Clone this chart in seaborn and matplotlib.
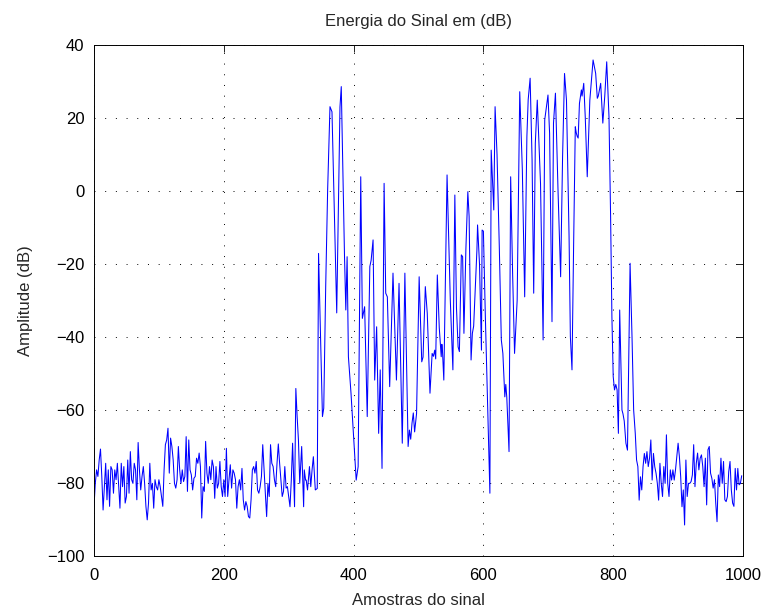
import numpy as np
import pandas as pd
import matplotlib
matplotlib.use("Agg")
import matplotlib.pyplot as plt
import seaborn as sns

# ---- data ----
noise_left_samples = list(range(0, 300, 2))
noise_left_db = [
    -86.4, -80.1, -76.4, -78.2, -73.7, -70.7, -78.2, -87.4, -81.0, -74.6,
    -84.6, -76.4, -86.4, -75.5, -76.4, -82.8, -76.4, -79.1, -74.6, -81.0,
    -86.9, -74.6, -81.0, -75.5, -85.5, -83.7, -73.7, -82.8, -71.4, -79.1,
    -80.1, -74.6, -76.4, -84.6, -68.9, -76.4, -81.9, -78.2, -75.5, -80.1,
    -86.4, -90.1, -85.5, -74.6, -81.9, -80.1, -86.9, -79.1, -81.0, -81.9,
    -79.1, -81.0, -83.7, -86.4, -76.4, -69.5, -68.2, -65.0, -77.3, -67.7,
    -70.0, -73.7, -80.1, -81.4, -79.1, -70.0, -76.4, -80.1, -76.4, -79.6,
    -78.2, -67.3, -82.3, -68.2, -76.4, -77.8, -81.9, -78.7, -78.2, -73.2,
    -74.6, -71.8, -75.5, -89.6, -81.0, -82.3, -68.6, -77.3, -80.1, -75.5,
    -79.1, -73.7, -75.5, -84.2, -75.5, -81.4, -80.1, -74.1, -81.0, -83.7,
    -79.1, -83.7, -70.5, -83.7, -79.1, -75.0, -81.4, -76.4, -77.3, -79.1,
    -86.9, -81.0, -79.1, -81.9, -76.0, -84.6, -87.4, -85.1, -86.4, -89.2,
    -89.6, -84.6, -76.4, -75.5, -77.3, -74.1, -81.9, -82.8, -81.0, -78.2,
    -69.5, -76.4, -82.8, -89.2, -80.1, -83.7, -69.5, -74.6, -75.5, -79.1,
    -81.0, -74.6, -69.3, -74.6, -79.1, -83.7, -82.3, -75.5, -81.4, -81.0,
]

burst_samples = [
    302, 304, 306, 307.5, 309, 311, 313, 315, 317, 320, 323, 324, 326, 327, 329,
    332, 334, 336, 338, 341, 344, 346, 352, 354, 357, 360, 363.6, 366.7, 374,
    379, 381, 386, 388, 390, 392, 396, 400.6, 404, 407, 411, 413.5, 417, 421,
    425, 427, 430, 432.5, 435.5, 438.6, 441, 443.8, 447, 449.5, 452, 455.6,
    460.7, 466, 470, 475, 479, 484, 486, 488, 490, 492, 494, 497, 501, 505,
    507, 510.5, 513.5, 517.7, 521, 523, 525, 526.5, 529, 532, 535, 536, 537,
    539, 544, 549, 553, 556, 558.5, 561, 563, 566, 568, 570, 573, 576, 578,
    581, 583, 585, 590, 591, 594, 597, 598, 600, 603, 607, 610, 612, 616, 618,
    621, 624.5, 627.6, 630, 633, 634.5, 636, 639.5, 642, 645, 648, 652, 656,
    660, 663.6, 667, 669, 672, 675, 677.5, 680, 683, 688, 692, 694.5, 699.5,
    702, 705.7, 708, 711, 715, 719, 722, 725, 728, 732, 734, 736.5, 739,
    741.6, 743, 744.5, 746, 748, 751, 752, 754.6, 757, 760, 764, 769, 773,
    775.5, 777, 780.7, 784, 787, 790, 793.5, 796, 798, 800, 802, 804, 806,
    808, 810, 813.5, 815, 817, 819.6, 822, 826, 829, 831.5, 834, 836,
]
burst_db = [
    -86.5, -79.2, -69.1, -77.4, -86.5, -54.1, -61.8, -68.2, -80.1, -70.0,
    -86.5, -76.4, -79.2, -79.2, -81.9, -75.5, -81.0, -76.4, -72.8, -81.9,
    -81.5, -17.1, -61.8, -59.5, -26.2, 0.3, 23.1, 21.7, -33.4,
    23.0, 28.6, -18.0, -32.6, -18.0, -45.4, -55.4, -69.0, -79.2, -75.5, 3.9,
    -34.9, -31.7, -61.8, -20.7, -19.0, -13.4, -51.8, -37.2, -66.4, -49.0,
    -76.0, 2.1, -28.0, -29.0, -53.6, -22.5, -51.8, -25.3, -69.1, -22.5,
    -70.0, -65.5, -68.0, -63.6, -60.8, -66.0, -61.0, -23.5, -46.8, -45.5,
    -26.2, -33.5, -55.4, -44.5, -45.3, -43.6, -46.0, -23.0, -37.5, -45.4,
    -42.0, -44.0, -51.8, 4.4, -29.9, -49.0, -1.1, -32.0, -42.7, -44.0,
    -17.5, -18.0, -39.0, -16.0, -0.2, -7.0, -46.3, -39.0, -37.0, -16.2,
    -9.3, -20.0, -43.6, -10.7, -11.0, -34.4, -62.0, -82.8, 11.2, -5.2,
    23.1, 10.0, -15.3, -40.8, -44.5, -56.4, -53.0, -56.4, -71.4, 3.9,
    -22.5, -44.5, -30.0, 27.2, 5.8, -29.0, 14.9, 25.0, 30.9, 8.5,
    -28.0, 13.1, 24.9, 2.1, -40.8, 19.5, 26.3, 15.8, -35.8, 18.6,
    26.8, 0.0, -23.5, 9.4, 32.2, 24.9, -12.5, -39.9, -49.0, -15.0,
    17.6, 16.0, 15.0, 14.5, 24.0, 27.7, 26.0, 29.5, 20.0, 3.9,
    24.9, 35.9, 32.2, 25.4, 26.0, 29.5, 18.6, 26.0, 35.4, 20.4,
    -7.0, -34.4, -50.8, -54.5, -53.0, -54.5, -66.4, -32.6, -60.0, -61.0,
    -63.0, -69.1, -71.0, -19.8, -40.0, -60.0, -66.4, -73.7,
]

noise_right_samples = list(range(838, 1001, 2))
noise_right_db = [
    -75.5, -84.7, -78.3, -81.9, -75.5, -71.9, -74.6, -71.4, -75.5, -73.2,
    -68.2, -79.2, -71.9, -75.5, -77.3, -80.1, -84.7, -74.6, -80.1, -83.7,
    -75.5, -80.1, -66.8, -80.1, -83.7, -76.4, -79.2, -76.4, -79.2, -76.4,
    -72.8, -69.1, -72.8, -78.3, -86.5, -81.9, -91.5, -73.7, -83.7, -80.1,
    -80.1, -79.6, -77.8, -69.5, -81.0, -74.6, -71.8, -76.4, -73.2,
    -72.3, -75.5, -81.0, -73.2, -86.0, -70.9, -70.0, -77.3, -78.7, -81.4,
    -79.1, -85.5, -90.6, -77.8, -81.0, -73.2, -80.1, -74.1, -84.6, -85.1,
    -83.7, -76.9, -74.1, -81.9, -85.5, -86.4, -76.0, -81.9, -76.0, -80.5,
    -80.1, -78.0,
]

x_ticks = [0, 200, 400, 600, 800, 1000]
y_ticks = [-100, -80, -60, -40, -20, 0, 20, 40]

samples = list(noise_left_samples) + list(burst_samples) + list(noise_right_samples)
values = list(noise_left_db) + list(burst_db) + list(noise_right_db[:len(noise_right_samples)])
n = min(len(samples), len(values))
df = pd.DataFrame({"sample": samples[:n], "db": values[:n]})

sns.set_style("white")
plt.rcParams["font.family"] = ["Liberation Sans", "DejaVu Sans"]

fig = plt.figure(figsize=(7.71, 6.12), dpi=100)
ax = fig.add_axes([94 / 771, 1 - 556 / 612, (743 - 94) / 771, (556 - 45) / 612])
sns.lineplot(data=df, x="sample", y="db", ax=ax, color="#0000ff",
             linewidth=0.75, sort=False, estimator=None)

ax.set_xlim(0, 1000)
ax.set_ylim(-100, 40)
ax.set_xticks(x_ticks)
ax.set_yticks(y_ticks)
ax.set_xticklabels([str(t) for t in x_ticks])
ax.set_yticklabels([str(t).replace("-", "\u2212") for t in y_ticks])
ax.grid(True, linestyle=(0, (1, 10)), color="black", linewidth=0.7)
ax.tick_params(direction="in", length=5, width=0.6, top=True, right=True,
               labelsize=12, colors="black")
ax.tick_params(axis="x", pad=9)
ax.tick_params(axis="y", pad=7)
for s in ax.spines.values():
    s.set_color("black")
    s.set_linewidth(0.7)
ax.set_title("Energia do Sinal em (dB)", fontsize=12, pad=14)
ax.set_xlabel("Amostras do sinal", fontsize=12, labelpad=7)
ax.set_ylabel("Amplitude (dB)", fontsize=12, labelpad=10)

fig.savefig("out.png", dpi=100)
